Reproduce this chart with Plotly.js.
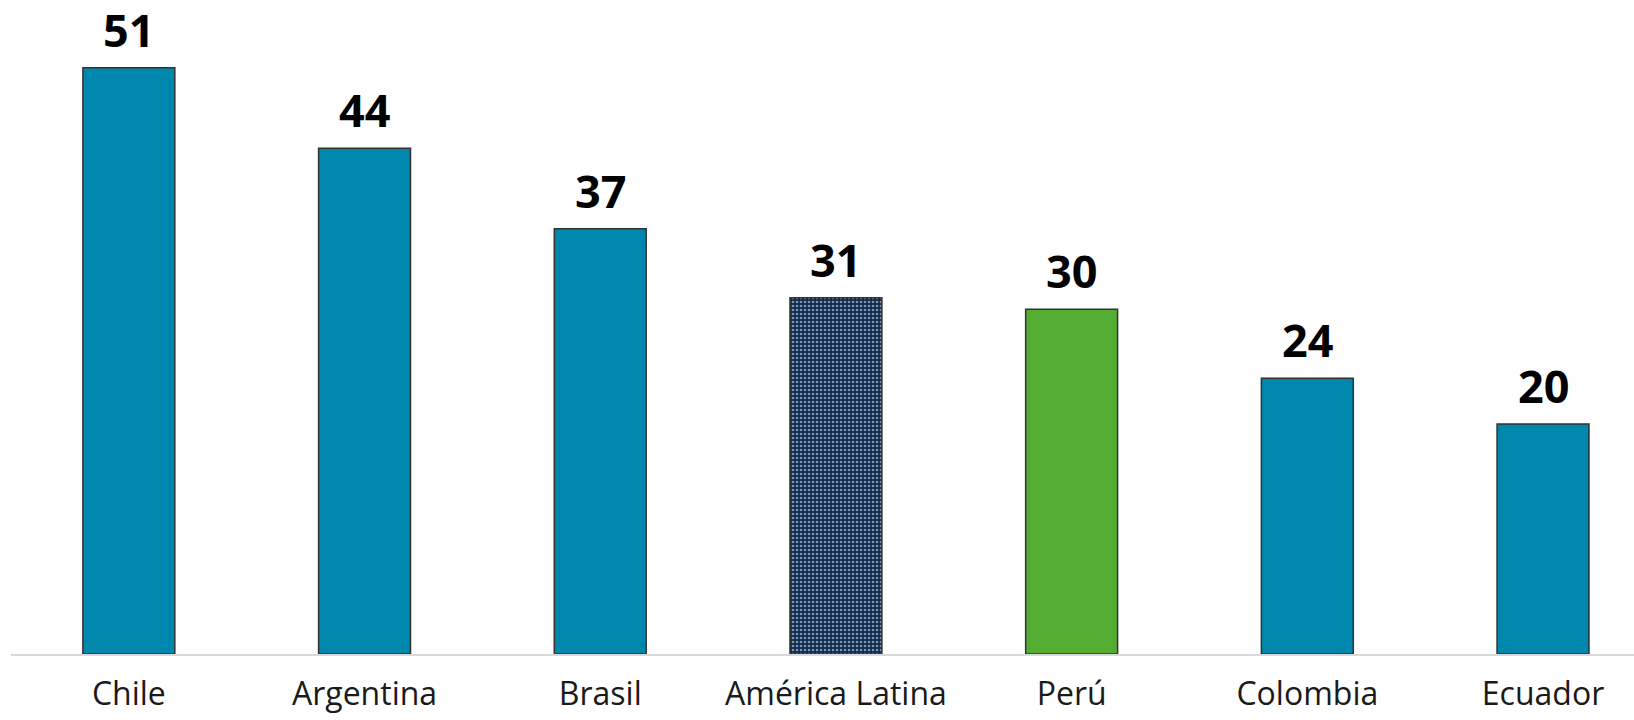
<!DOCTYPE html>
<html>
<head>
<meta charset="utf-8">
<script src="https://cdn.plot.ly/plotly-3.0.1.min.js"></script>
<style>html,body{margin:0;padding:0;background:#fff;}#chart{width:1634px;height:720px;}</style>
</head>
<body>
<div id="chart"></div>
<script>
const categories = ["Chile", "Argentina", "Brasil", "América Latina", "Perú", "Colombia", "Ecuador"];
const values = [51, 44, 37, 31, 30, 24, 20];
const barColors = ["#0087AD", "#0087AD", "#0087AD", "#0B2A4F", "#52AD32", "#0087AD", "#0087AD"];
const patternShapes = ["", "", "", ".", "", "", ""];

const trace = {
  type: "bar",
  x: categories,
  y: values,
  width: 0.39,
  marker: {
    color: barColors,
    line: {color: "#333333", width: 1.5},
    pattern: {
      shape: patternShapes,
      bgcolor: "#0B2A4F",
      fgcolor: "#ffffff",
      fillmode: "overlay",
      size: 4,
      solidity: 0.35
    }
  },
  hoverinfo: "skip"
};

const annotations = categories.map((c, i) => ({
  x: c, y: values[i], xref: "x", yref: "y",
  text: "<b>" + values[i] + "</b>",
  showarrow: false, yanchor: "bottom", yshift: 6,
  font: {family: "Open Sans, Noto Sans, sans-serif", size: 45, color: "#000000"}
}));

const layout = {
  width: 1634, height: 720,
  margin: {l: 11, r: 0, t: 0, b: 66},
  paper_bgcolor: "#ffffff", plot_bgcolor: "#ffffff",
  showlegend: false,
  bargap: 0.61,
  xaxis: {
    type: "category",
    range: [-0.5, 6.386],
    showline: true, linecolor: "#d9d9d9", linewidth: 2,
    showgrid: false, zeroline: false, ticks: "",
    ticklabelstandoff: 11,
    tickfont: {family: "Open Sans, Noto Sans, sans-serif", size: 32, color: "#1a1a1a"}
  },
  yaxis: {
    range: [0, 56.9],
    visible: false, showgrid: false, zeroline: false
  },
  annotations: annotations
};

Plotly.newPlot("chart", [trace], layout, {displayModeBar: false, staticPlot: true});
</script>
</body>
</html>
